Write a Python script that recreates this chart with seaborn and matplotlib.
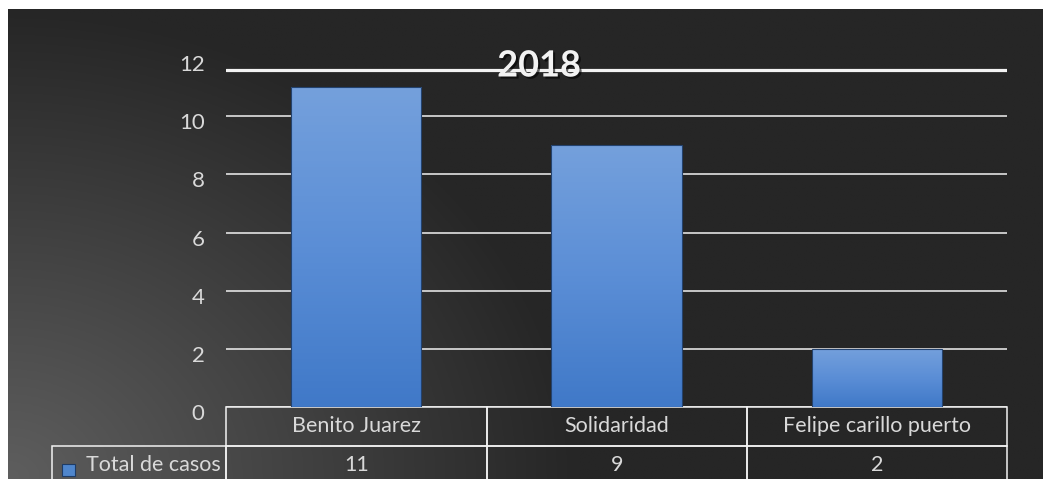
import numpy as np
import pandas as pd
import matplotlib.pyplot as plt
import seaborn as sns
from matplotlib import patheffects
from matplotlib.patches import Rectangle
from matplotlib.colors import LinearSegmentedColormap
from matplotlib.transforms import ScaledTranslation

# data
categories = ['Benito Juarez', 'Solidaridad', 'Felipe carillo puerto']
casos = [11, 9, 2]
serie = 'Total de casos'
titulo = '2018'
y_ticks = [0, 2, 4, 6, 8, 10, 12]

df = pd.DataFrame({'Municipio': categories, serie: casos})

sns.set_theme(style='dark')
plt.rcParams['font.family'] = ['Lato', 'DejaVu Sans']

W, H = 1043, 479
fig = plt.figure(figsize=(W / 100, H / 100), dpi=100, facecolor='white')

# dark gradient background (lighter toward bottom-left)
bg = fig.add_axes([8 / W, 0, (W - 8) / W, (H - 9) / H], zorder=-10)
xx, yy = np.meshgrid(np.linspace(0, 1, 400), np.linspace(0, 1, 200))
d = np.clip(np.sqrt((xx / 0.55) ** 2 + (yy / 1.0) ** 2), 0, 1)
shade = 0x26 / 255 + (0x5e - 0x26) / 255 * (1 - d)
bg.imshow(np.dstack([shade] * 3), origin='lower', aspect='auto', extent=[0, 1, 0, 1])
bg.axis('off')

# main chart
ax = fig.add_axes([226 / W, 1 - 407 / H, 781 / W, 349 / H])
ax.set_facecolor('none')
sns.barplot(data=df, x='Municipio', y=serie, ax=ax, width=0.5,
            color='#5a8ad2', edgecolor='#23426e', linewidth=0.8, zorder=3)

# vertical gradient inside each bar
cmap = LinearSegmentedColormap.from_list('bar', ['#4079c8', '#5b8ed6', '#74a0dc'])
grad = np.linspace(0, 1, 100).reshape(-1, 1)
for p in list(ax.patches):
    x0, y0, w, h = p.get_x(), p.get_y(), p.get_width(), p.get_height()
    im = ax.imshow(grad, cmap=cmap, origin='lower', aspect='auto',
                   extent=[x0, x0 + w, y0, y0 + h], zorder=3.5)
    im.set_clip_path(p)
    p.set_facecolor('none')
    p.set_zorder(4)

ax.set_xlim(-0.5, 2.5)
ax.set_ylim(0, 12)
ax.set_yticks(y_ticks)
ax.set_xticks(range(len(categories)))
ax.set_xticklabels([])
ax.set_xlabel('')
ax.set_ylabel('')
for s in ax.spines.values():
    s.set_visible(False)

ax.set_axisbelow(True)
ax.yaxis.grid(True, color='#f2f2f2', lw=1.1)
ax.xaxis.grid(False)
ax.get_ygridlines()[-1].set_visible(False)
ax.axhline(11.6, color='#f2f2f2', lw=2.3, zorder=2)

ax.tick_params(axis='y', colors='#d9d9d9', labelsize=16, length=0, pad=15.5)
ax.tick_params(axis='x', length=0)
for tick in ax.yaxis.get_major_ticks():
    tick.label1.set_transform(tick.label1.get_transform()
                              + ScaledTranslation(0, -0.05, fig.dpi_scale_trans))

# data table below the plot
tbl = ax.table(cellText=[[str(v) for v in casos]], colLabels=categories,
               cellLoc='center', colLoc='center', colWidths=[260 / 781] * 3,
               bbox=[0, -77 / 349, 1, 77 / 349])
row_h = tbl[0, 0].get_height()
tbl.add_cell(1, -1, width=174 / 781, height=row_h, text=serie, loc='left')
tbl.auto_set_font_size(False)
tbl.set_fontsize(15.5)
for (r, c), cell in tbl.get_celld().items():
    cell.set_edgecolor('#f2f2f2')
    cell.set_linewidth(1.1)
    cell.set_facecolor('none')
    cell.get_text().set_color('#d9d9d9')
    if c == -1:
        cell.PAD = 34 / 174

# legend key in the table
fig.add_artist(Rectangle((62 / W, 1 - 476 / H), 13 / W, 12 / H,
                         transform=fig.transFigure, facecolor='#4f86cc',
                         edgecolor='#1e3c66', lw=0.8))

fig.text(539 / W, 1 - 66 / H, titulo, ha='center', va='center',
         fontsize=26, fontweight='bold', color='#f2f2f2', zorder=10,
         path_effects=[patheffects.withSimplePatchShadow(offset=(1.5, -1.5),
                                                         shadow_rgbFace='black',
                                                         alpha=0.6)])

fig.savefig('out.png', dpi=100)
